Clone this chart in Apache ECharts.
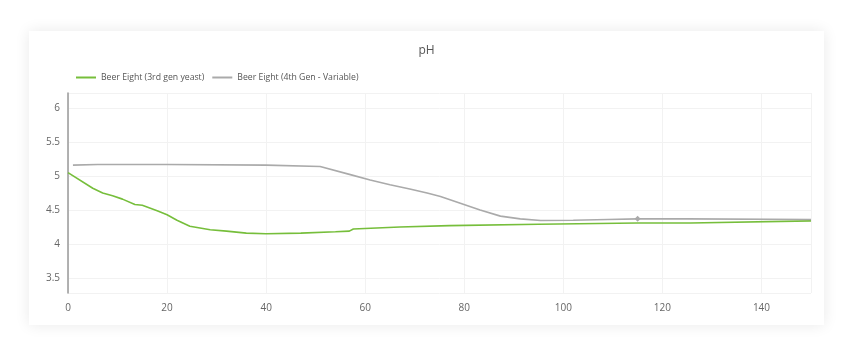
<!DOCTYPE html>
<html lang="en">
<head>
<meta charset="UTF-8">
<title>pH</title>
<style>
html, body { margin: 0; padding: 0; background: #fff; }
#card {
	position: absolute; left: 29px; top: 31px; width: 795px; height: 294px;
	background: #fff; box-shadow: 0 0 14px rgba(0,0,0,0.09);
}
#chart { position: absolute; left: 0; top: 0; width: 853px; height: 358px; }
</style>
</head>
<body>
<div id="card"></div>
<div id="chart"></div>
<script src="https://cdn.jsdelivr.net/npm/echarts@6/dist/echarts.min.js"></script>
<script>
// x = hours, y = pH
var gen3X = [0, 5, 7, 9, 11, 13.5, 15, 18, 20, 22, 24.6, 28.7, 32, 36, 40, 47, 54, 56.8, 57.6, 67, 77, 95, 115, 125.7, 150];
var gen3Y = [5.05, 4.82, 4.75, 4.71, 4.66, 4.58, 4.57, 4.49, 4.43, 4.35, 4.26, 4.21, 4.19, 4.16, 4.15, 4.16, 4.18, 4.19, 4.22, 4.25, 4.27, 4.29, 4.31, 4.31, 4.34];

var gen4X = [1, 6, 20, 40, 50.9, 57, 61, 65, 69, 72.5, 75.2, 79.2, 83.2, 87.3, 91.3, 95.4, 102, 109, 115, 125, 150];
var gen4Y = [5.16, 5.17, 5.17, 5.16, 5.14, 5.02, 4.94, 4.87, 4.81, 4.75, 4.70, 4.60, 4.50, 4.41, 4.37, 4.345, 4.35, 4.36, 4.37, 4.37, 4.36];
var markedX = 115; // small diamond on the grey line only

var names = ['Beer Eight (3rd gen yeast)', 'Beer Eight (4th Gen - Variable)'];

function pairs(xs, ys, mark) {
	return xs.map(function (x, i) {
		if (x === mark) {
			return { value: [x, ys[i]], symbol: 'diamond', symbolSize: 6 };
		}
		return [x, ys[i]];
	});
}

var chart = echarts.init(document.getElementById('chart'));
chart.setOption({
	animation: false,
	textStyle: { fontFamily: 'Open Sans, DejaVu Sans, sans-serif' },
	title: {
		text: 'pH', left: 'center', top: 40,
		textStyle: { fontSize: 12, fontWeight: 'normal', color: '#555' }
	},
	legend: {
		left: 71, top: 68, icon: 'rect',
		itemWidth: 20, itemHeight: 2, itemGap: 8,
		textStyle: { fontSize: 8.7, color: '#555' },
		data: names
	},
	grid: { left: 68, right: 42, top: 93, bottom: 65 },
	xAxis: {
		type: 'value', min: 0, max: 150, interval: 20,
		axisLine: { show: false },
		axisTick: { show: false },
		axisLabel: { color: '#666', fontSize: 10, margin: 10, showMaxLabel: false },
		splitLine: { lineStyle: { color: '#f2f2f2' } }
	},
	yAxis: {
		type: 'value', min: 3.28, max: 6.22, splitNumber: 6,
		axisLine: { show: true, lineStyle: { color: '#999', width: 1.5 } },
		axisTick: { show: false },
		axisLabel: { color: '#666', fontSize: 10, margin: 8, showMinLabel: false, showMaxLabel: false },
		splitLine: { lineStyle: { color: '#f2f2f2' } }
	},
	series: [
		{
			name: names[0], type: 'line', symbol: 'none',
			data: pairs(gen3X, gen3Y, null),
			lineStyle: { color: '#76be3b', width: 1.6 },
			itemStyle: { color: '#76be3b' }
		},
		{
			name: names[1], type: 'line', symbol: 'none', showSymbol: true,
			data: pairs(gen4X, gen4Y, markedX),
			lineStyle: { color: '#aaaaaa', width: 1.6 },
			itemStyle: { color: '#aaaaaa' }
		}
	]
});
</script>
</body>
</html>
